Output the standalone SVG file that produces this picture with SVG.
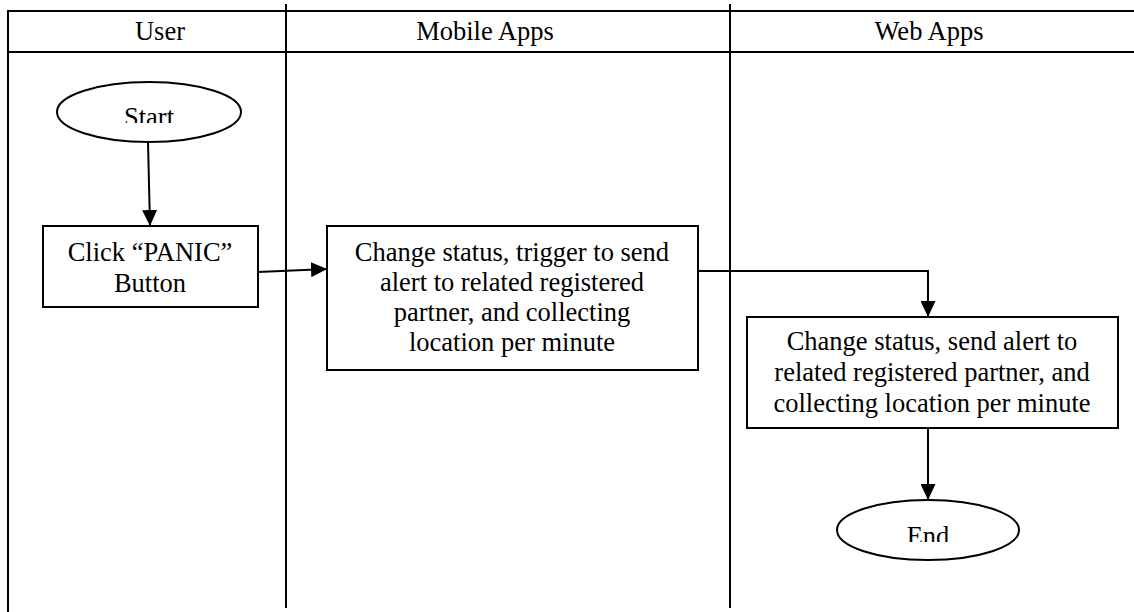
<svg xmlns="http://www.w3.org/2000/svg" width="1134" height="612" viewBox="0 0 1134 612">
<style>
.ln{stroke:#000;stroke-width:2;fill:none}
.box{stroke:#000;stroke-width:2;fill:#fff}
.t{font-family:"Liberation Serif","Times New Roman",serif;font-size:26.5px;fill:#000;text-anchor:middle}
.c{stroke:#000;stroke-width:2;fill:none;marker-end:url(#ah)}
</style>
<defs>
<marker id="ah" markerUnits="userSpaceOnUse" markerWidth="17" markerHeight="15" refX="16" refY="7.5" orient="auto">
<path d="M0,0 L16,7.5 L0,15 Z" fill="#000"/>
</marker>
<clipPath id="clipStart"><rect x="0" y="0" width="300" height="123"/></clipPath>
<clipPath id="clipEnd"><rect x="700" y="400" width="434" height="142"/></clipPath>
</defs>
<rect width="1134" height="612" fill="#fff"/>
<g id="lanes">
<line class="ln" x1="8" y1="11" x2="1134" y2="11"/>
<line class="ln" x1="8" y1="52" x2="1134" y2="52"/>
<line class="ln" x1="8" y1="10" x2="8" y2="612"/>
<line class="ln" x1="286" y1="4" x2="286" y2="608"/>
<line class="ln" x1="730" y1="4" x2="730" y2="608"/>
<text class="t" x="160" y="40">User</text>
<text class="t" x="485" y="40">Mobile Apps</text>
<text class="t" x="929" y="40">Web Apps</text>
</g>
<g id="connectors">
<path class="c" d="M148,142 L150,226"/>
<path class="c" d="M258,272 L327,269"/>
<path class="c" d="M698,271 L928,271 L928,317"/>
<path class="c" d="M928,428 L928,500"/>
</g>
<g id="start">
<ellipse class="box" cx="149" cy="112" rx="92" ry="30"/>
<text class="t" x="149" y="126" clip-path="url(#clipStart)">Start</text>
</g>
<g id="click">
<rect class="box" x="43" y="226" width="215" height="81"/>
<text class="t" x="150" y="261">Click “PANIC”</text>
<text class="t" x="150" y="292">Button</text>
</g>
<g id="mobile">
<rect class="box" x="327" y="226" width="371" height="144"/>
<text class="t" x="512" y="261">Change status, trigger to send</text>
<text class="t" x="512" y="291">alert to related registered</text>
<text class="t" x="512" y="321">partner, and collecting</text>
<text class="t" x="512" y="351">location per minute</text>
</g>
<g id="web">
<rect class="box" x="747" y="317" width="371" height="111"/>
<text class="t" x="932" y="350">Change status, send alert to</text>
<text class="t" x="932" y="381">related registered partner, and</text>
<text class="t" x="932" y="412">collecting location per minute</text>
</g>
<g id="end">
<ellipse class="box" cx="928" cy="530" rx="91" ry="30"/>
<text class="t" x="928" y="545" clip-path="url(#clipEnd)">End</text>
</g>
</svg>
